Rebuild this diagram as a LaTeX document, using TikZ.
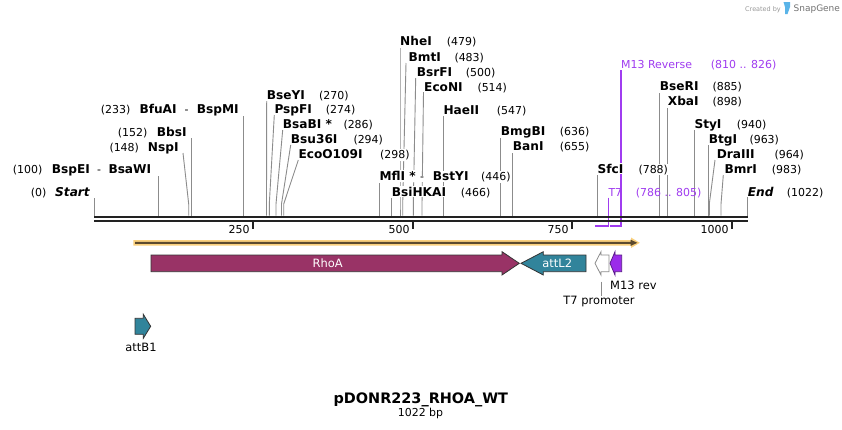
\documentclass[tikz,border=0pt]{standalone}
\usepackage{fontspec}
\setmainfont{DejaVu Sans}
\definecolor{enzline}{HTML}{8C8C8C}
\definecolor{backb}{HTML}{222222}
\definecolor{rhoac}{HTML}{993366}
\definecolor{attc}{HTML}{31849B}
\definecolor{primc}{HTML}{A03CF0}
\definecolor{m13c}{HTML}{9B2BEA}
\definecolor{m13d}{HTML}{5A1A8A}
\definecolor{orlight}{HTML}{FAD07D}
\definecolor{ordark}{HTML}{5C4A2E}
\definecolor{featline}{HTML}{333333}
\definecolor{snapblue}{HTML}{5AB4E8}
\pgfdeclarelayer{cutlayer}
\pgfsetlayers{cutlayer,main}
\tikzset{
  enz/.style={inner xsep=0pt, inner ysep=1pt, fill=white, anchor=base west, font=\fontsize{12.2}{14}\selectfont\bfseries},
  num/.style={inner xsep=0pt, inner ysep=1pt, fill=white, anchor=base west, font=\fontsize{11}{13}\selectfont},
  primlab/.style={inner sep=0pt, anchor=base west, font=\fontsize{11}{13}\selectfont, text=primc},
  cut/.style={draw=enzline, line width=0.9bp},
  feat/.style={draw=featline, line width=0.8bp, line join=miter},
  featlab/.style={inner sep=0pt, font=\fontsize{11.5}{13}\selectfont},
  primline/.style={draw=primc, line width=1.3bp},
}
\newcommand\enzlab[6]{%
  \node[enz] (#1) at (#2,#6+4) {#3};
  \node[num] (#1n) at (#4,#6+4) {#5};}
\newcommand\cutline[4]{%
  \coordinate (#1t) at (#2,#3);
  \coordinate (#1s) at (#4,215.6);
  \begin{pgfonlayer}{cutlayer}
  \draw[cut] (#1t) -- (#4,204) -- (#1s);
  \end{pgfonlayer}}
\begin{document}
\begin{tikzpicture}[x=1bp,y=-1bp]
\useasboundingbox (0,0) rectangle (842,429);
\begin{pgfonlayer}{cutlayer}
\fill[white] (0,0) rectangle (842,429);
\end{pgfonlayer}

% Created by SnapGene
\node[inner sep=0pt, anchor=base west, font=\fontsize{6.5}{7}\selectfont, text=black!40] (cb) at (745,11) {Created by};
\fill[snapblue] (783.5,2) -- (790,2) -- (790,7) -- (787.5,14) -- (785,14) -- (785,7) -- cycle;
\node[inner sep=0pt, anchor=base west, font=\fontsize{9}{10}\selectfont, text=black!55] (sg) at (793.5,11.5) {SnapGene};

% ---- left group (number first)
\node[num] (l0n) at (30.7,196.3) {(0)};
\node[enz] (l0) at (55,196.3) {\itshape Start};
\cutline{l0}{94.3}{198}{94.3}
\node[num] (l1n) at (12.7,173) {(100)};
\node[enz] (l1) at (51.7,173) {BspEI};
\node[num] (l1d) at (96.8,173) {-};
\node[enz] (l1b) at (108.3,173) {BsaWI};
\cutline{l1}{158.3}{176}{158.3}
\node[num] (l2n) at (109.3,151.3) {(148)};
\node[enz] (l2) at (147.7,151.3) {NspI};
\cutline{l2}{183}{153}{188.7}
\node[num] (l3n) at (117.7,136.3) {(152)};
\node[enz] (l3) at (156.7,136.3) {BbsI};
\cutline{l3}{191.3}{138}{191.3}
\node[num] (l4n) at (100.7,113.3) {(233)};
\node[enz] (l4) at (139.3,113.3) {BfuAI};
\node[num] (l4d) at (184.5,113.3) {-};
\node[enz] (l4b) at (196.7,113.3) {BspMI};
\cutline{l4}{243.3}{116}{243.3}

% ---- middle group
\enzlab{m1}{266.7}{BseYI}{319}{(270)}{95}
\cutline{m1}{266.7}{101}{266.5}
\enzlab{m2}{274.3}{PspFI}{325.7}{(274)}{109.3}
\cutline{m2}{274.3}{115}{269.3}
\enzlab{m3}{282.7}{BsaBI *}{343.3}{(286)}{124.3}
\cutline{m3}{282.7}{130}{276}
\enzlab{m4}{290.7}{Bsu36I}{353.3}{(294)}{139.3}
\cutline{m4}{290.7}{145}{281.5}
\enzlab{m5}{298.3}{EcoO109I}{380}{(298)}{154.3}
\cutline{m5}{298.3}{160}{283.7}
\node[enz] (m6) at (379.3,180.7) {MflI *};
\node[num] (m6d) at (420,180.7) {-};
\node[enz] (m6b) at (432.7,180.7) {BstYI};
\node[num] (m6n) at (481,180.7) {(446)};
\cutline{m6}{379.3}{183}{379.3}
\enzlab{m7}{391.7}{BsiHKAI}{460.7}{(466)}{192.3}
\cutline{m7}{391.7}{198}{391.7}
\enzlab{m8}{400}{NheI}{446.7}{(479)}{41.7}
\cutline{m8}{400}{48}{400}
\enzlab{m9}{408.5}{BmtI}{454.3}{(483)}{57.3}
\cutline{m9}{406}{63}{402.7}
\enzlab{m10}{416.7}{BsrFI}{465.7}{(500)}{72.3}
\cutline{m10}{415.7}{78}{413.3}
\enzlab{m11}{424}{EcoNI}{477.3}{(514)}{87.3}
\cutline{m11}{423.5}{92}{422}
\enzlab{m12}{443.3}{HaeII}{496.7}{(547)}{110}
\cutline{m12}{443.3}{116}{443.3}

% ---- right group
\enzlab{r1}{500.7}{BmgBI}{559.7}{(636)}{131.7}
\cutline{r1}{500.7}{138}{500.7}
\enzlab{r2}{512.7}{BanI}{559.7}{(655)}{146.7}
\cutline{r2}{512.7}{153}{512.7}
\enzlab{r3}{597.3}{SfcI}{638.3}{(788)}{169}
\cutline{r3}{597.3}{175}{597.3}
\enzlab{r4}{659.7}{BseRI}{712.3}{(885)}{86.7}
\cutline{r4}{659.7}{93}{659.7}
\enzlab{r5}{667.7}{XbaI}{712.3}{(898)}{101.7}
\cutline{r5}{667.7}{108}{667.7}
\enzlab{r6}{694.3}{StyI}{736.7}{(940)}{124}
\cutline{r6}{694.3}{130}{694.3}
\enzlab{r7}{708.7}{BtgI}{749.3}{(963)}{139}
\cutline{r7}{708.7}{145}{708.7}
\enzlab{r8}{716.7}{DraIII}{774.3}{(964)}{154}
\cutline{r8}{715}{160}{709.3}
\enzlab{r9}{724.3}{BmrI}{771.7}{(983)}{169}
\cutline{r9}{723.3}{175}{721}
\enzlab{r10}{747.7}{\itshape End}{786.7}{(1022)}{192.3}
\cutline{r10}{747.7}{197}{747.7}

% ---- primers
\node[primlab] (p1) at (621,68) {M13 Reverse};
\node[primlab] (p1n) at (710.7,68) {(810 .. 826)};
\node[primlab] (p2) at (608.3,196.3) {T7};
\node[primlab] (p2n) at (635.7,196.3) {(786 .. 805)};
\coordinate (p1t) at (621,70);
\coordinate (p1b) at (621,226.6);
\coordinate (p2t) at (608.3,197.5);
\coordinate (p2b) at (608.3,226.6);
\begin{pgfonlayer}{cutlayer}
\draw[primline] (p1t) -- (p1b);
\draw[primline] (p2t) -- (p2b);
\end{pgfonlayer}
\draw[primc, line width=2bp] (595,225.7) -- (607.5,225.7);
\draw[primc, line width=2bp] (609.5,225.7) -- (621.5,225.7);

% ---- backbone
\coordinate (bbs) at (94,216.8);
\coordinate (bbe) at (748,216.8);
\draw[backb, line width=2.4bp] (bbs) -- (bbe);
\draw[backb, line width=1.9bp] (94,221) -- (748,221);

% ticks
\foreach \tx/\tl in {252.7/250, 412.7/500, 571.7/750, 731.7/1000}{
  \draw[backb, line width=2bp] (\tx,221) -- (\tx,229);
  \node[inner sep=0pt, anchor=base east, font=\fontsize{11}{13}\selectfont] (tk\tl) at (\tx-3,233) {\tl};
}

% ---- orange ORF bar
\fill[orlight] (133.3,240) -- (631,240) -- (631,237.5) -- (639.8,242.8) -- (631,248) -- (631,245.6) -- (133.3,245.6) -- cycle;
\fill[ordark] (135,241.8) -- (630.5,241.8) -- (630.5,239.6) -- (637.3,242.8) -- (630.5,246) -- (630.5,243.8) -- (135,243.8) -- cycle;

% ---- features
\filldraw[feat, fill=rhoac] (151,255) -- (502,255) -- (502,251.7) -- (519.3,263.3) -- (502,275) -- (502,271.7) -- (151,271.7) -- cycle;
\node[featlab, text=white] (rhoa) at (327.7,263.3) {RhoA};
\filldraw[feat, fill=attc] (586,255) -- (543.3,255) -- (543.3,251.7) -- (521,263.3) -- (543.3,275) -- (543.3,271.7) -- (586,271.7) -- cycle;
\node[featlab, text=white] (attl) at (557.3,263.3) {attL2};
\filldraw[draw=black!45, line width=0.8bp, fill=white] (609,255) -- (601,255) -- (601,251.7) -- (595,263.3) -- (601,275) -- (601,271.7) -- (609,271.7) -- cycle;
\filldraw[draw=m13d, line width=0.8bp, fill=m13c] (621.7,255) -- (615,255) -- (615,251.7) -- (610,263.3) -- (615,275) -- (615,271.7) -- (621.7,271.7) -- cycle;
\node[featlab, anchor=base west] (m13l) at (610,289) {M13 rev};
\node[featlab, anchor=base] (t7l) at (599,304.5) {T7 promoter};
\coordinate (t7c) at (601.7,281.7);
\draw[draw=black!45, line width=0.8bp] (t7c) -- (t7c |- t7l.north);
\filldraw[feat, fill=attc] (135,318.3) -- (143.3,318.3) -- (143.3,314.3) -- (150.7,326.3) -- (143.3,338.3) -- (143.3,334.3) -- (135,334.3) -- cycle;
\node[featlab, anchor=base] (attb) at (141,351) {attB1};

% ---- title
\node[inner sep=0pt, anchor=base, font=\fontsize{14.5}{16}\selectfont\bfseries] (title) at (420.8,403) {pDONR223\_RHOA\_WT};
\node[inner sep=0pt, anchor=base, font=\fontsize{11}{13}\selectfont] (len) at (420.5,416) {1022 bp};
\end{tikzpicture}
\end{document}
